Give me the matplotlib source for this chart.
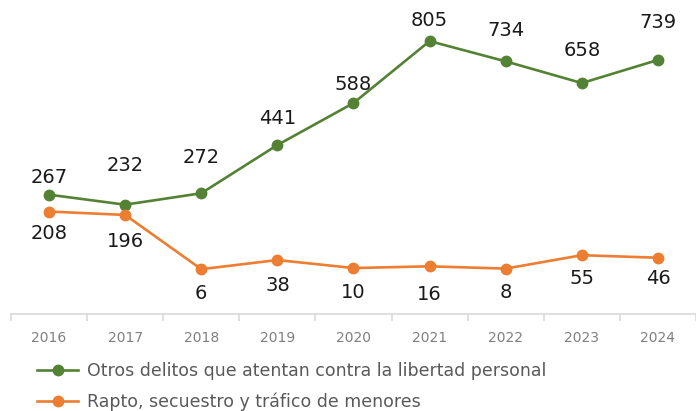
import matplotlib.pyplot as plt
import numpy as np

years = ["2016", "2017", "2018", "2019", "2020", "2021", "2022", "2023", "2024"]
otros = [267, 232, 272, 441, 588, 805, 734, 658, 739]
rapto = [208, 196, 6, 38, 10, 16, 8, 55, 46]
name_otros = "Otros delitos que atentan contra la libertad personal"
name_rapto = "Rapto, secuestro y tráfico de menores"

green = "#548235"
orange = "#ed7d31"

# label offsets in pixels (above green, below orange)
off_otros = [17, 39, 36, 27, 19, 21, 31, 33, 37]
off_rapto = [22, 27, 24, 25, 24, 28, 24, 23, 21]

fig = plt.figure(figsize=(6.96, 4.11), dpi=100)
ax = fig.add_axes([11 / 696, 97 / 411, 685 / 696, 314 / 411])

x = np.arange(len(years))
ax.plot(x, otros, color=green, lw=1.9, marker="o", ms=7.5, label=name_otros)
ax.plot(x, rapto, color=orange, lw=1.9, marker="o", ms=7.5, label=name_rapto)

for i in range(len(years)):
    ax.annotate(str(otros[i]), (x[i], otros[i]), xytext=(0, off_otros[i] * 0.72),
                textcoords="offset points", ha="center", va="center",
                fontsize=14, color="#1a1a1a")
    ax.annotate(str(rapto[i]), (x[i], rapto[i]), xytext=(0, -off_rapto[i] * 0.72),
                textcoords="offset points", ha="center", va="center",
                fontsize=14, color="#1a1a1a")

ax.set_xlim(-0.5, len(years) - 0.5)
ax.set_ylim(-151, 949)
ax.set_yticks([])
for s in ["top", "right", "left"]:
    ax.spines[s].set_visible(False)
ax.spines["bottom"].set_color("#d9d9d9")
ax.spines["bottom"].set_linewidth(1.2)

ax.set_xticks(x)
ax.set_xticklabels(years, fontsize=10, color="#7f7f7f")
ax.tick_params(axis="x", length=0, pad=12)
ax.set_xticks(np.arange(-0.5, len(years), 1), minor=True)
ax.tick_params(axis="x", which="minor", length=5, color="#d9d9d9", width=1.2)

fig.legend(loc="upper left", bbox_to_anchor=(28 / 696, 1 - 353 / 411), frameon=False,
           fontsize=12.5, labelcolor="#595959", handlelength=2.4, labelspacing=0.72,
           handletextpad=0.5, borderpad=0)

fig.savefig("out.png", dpi=100)
